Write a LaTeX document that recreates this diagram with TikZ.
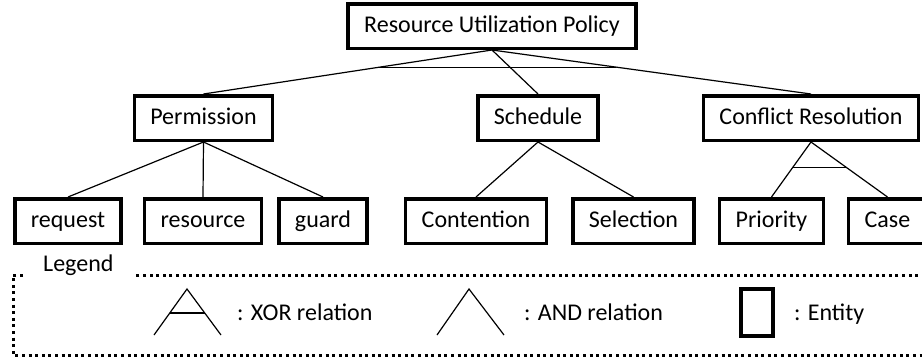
\documentclass[tikz,border=0pt]{standalone}
\usepackage{fontspec}
\setmainfont{Carlito}
\usetikzlibrary{calc}
\begin{document}
\begin{tikzpicture}[x=1pt,y=-1pt,
    entity/.style={draw,rectangle,line width=3.5pt,minimum height=44.5pt,inner xsep=16pt,inner ysep=0pt,
      text height=16pt,text depth=4pt},
    link/.style={line width=1.2pt},
    frame/.style={line width=3pt,dash pattern=on 3pt off 3.6pt},
    lbl/.style={anchor=base west,inner sep=0pt},
    font=\fontsize{24}{28}\selectfont]
    \useasboundingbox (0,0) rectangle (922,362);
    \node[entity] (root) at (492,26) {Resource Utilization Policy};

    \node[entity] (perm) at (203.5,118) {Permission};
    \node[entity] (sched) at (538,118) {Schedule};
    \node[entity] (conf) at (811,118) {Conflict Resolution};

    \node[entity] (req) at (68,221) {request};
    \node[entity] (res) at (203,221) {resource};
    \node[entity] (guard) at (323,221) {guard};
    \node[entity] (cont) at (476,221) {Contention};
    \node[entity] (sel) at (633.5,221) {Selection};
    \node[entity] (prio) at (771.5,221) {Priority};
    \node[entity] (case) at (887.5,221) {Case};

    \draw (root.south) edge[link] (perm.north) edge[link] (sched.north) edge[link] (conf.north)
          (perm.south) edge[link] (req.north) edge[link] (res.north) edge[link] (guard.north)
          (sched.south) edge[link] (cont.north) edge[link] (sel.north)
          (conf.south) edge[link] (prio.north) edge[link] (case.north);
    % xor bars
    \draw[link] ($(root.south)!0.39!(perm.north)$) -- ($(root.south)!0.39!(conf.north)$);
    \draw[link] ($(conf.south)!0.47!(prio.north)$) -- ($(conf.south)!0.47!(case.north)$);

    % legend
    \node[lbl] (legend) at (43,271) {Legend};
    \draw[frame] (23,275) -- (13,275) -- (13,355) -- (935,355) -- (935,275) -- (133,275);
    \draw[link] (154,335) -- (187,289) -- (221,335);
    \draw[link] ($(187,289)!0.52!(154,335)$) -- ($(187,289)!0.52!(221,335)$);
    \node[lbl] (xor) at (237,320) {: XOR relation};
    \draw[link] (437,335) -- (469,289) -- (504,335);
    \node[lbl] (and) at (524,320) {: AND relation};
    \draw[line width=3.5pt] (741,289) rectangle (773,336);
    \node[lbl] (ent) at (794,320) {: Entity};
\end{tikzpicture}
\end{document}
